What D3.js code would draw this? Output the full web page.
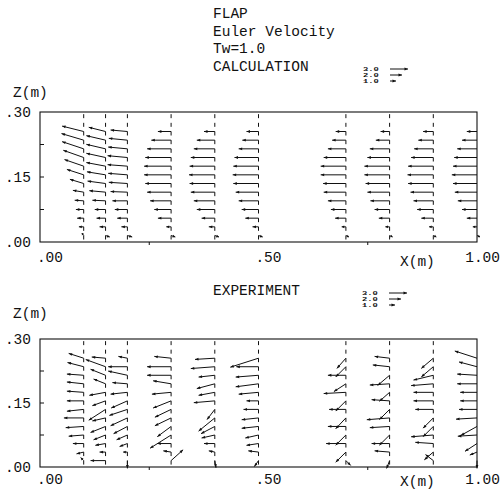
<!DOCTYPE html>
<html><head><meta charset="utf-8">
<script src="https://cdn.jsdelivr.net/npm/d3@7"></script>
<style>
body{margin:0;background:#fff}
text{font-family:"Liberation Mono","DejaVu Sans Mono",monospace;fill:#111}
</style>
</head><body>
<svg id="c" width="503" height="491"></svg>
<script>
// ---------------- data ----------------
const stations = [0.1, 0.15, 0.2, 0.3, 0.4, 0.5, 0.7, 0.8, 0.9, 1.0];
const zLevels = [0.255,0.235,0.215,0.195,0.175,0.155,0.135,0.115,0.095,0.075,0.055,0.035,0.015];

// CALCULATION: horizontal (u) and vertical (w) velocity, one row per station, top -> bottom
const calcU = [
 [-3.6,-3.7,-3.6,-3.4,-3.2,-2.8,-2.3,-1.8,-1.5,-1.3,-1.1,-0.8,-0.3],
 [-2.8,-3.2,-3.2,-3.2,-3.2,-3.1,-3.0,-2.7,-2.2,-1.8,-1.5,-1.0,0.7],
 [-2.8,-3.1,-3.2,-3.3,-3.3,-3.2,-3.1,-2.8,-2.5,-2.1,-1.7,-1.0,0.8],
 [-2.2,-3.3,-4.0,-4.3,-4.5,-4.5,-4.3,-4.0,-3.5,-2.8,-2.2,-0.8,0.7],
 [-1.8,-3.0,-3.5,-4.0,-4.2,-4.3,-4.2,-4.0,-3.5,-3.0,-2.2,-1.0,0.7],
 [-2.0,-2.7,-3.3,-4.0,-4.2,-4.3,-4.2,-3.8,-3.3,-2.8,-2.2,-1.0,0.7],
 [-1.7,-2.3,-3.0,-3.7,-4.2,-4.2,-3.8,-3.7,-3.0,-2.5,-1.8,-0.7,0.5],
 [-1.5,-2.3,-3.3,-3.7,-4.2,-4.2,-4.0,-3.7,-3.2,-2.5,-1.8,-0.7,0.5],
 [-1.7,-2.5,-3.2,-3.7,-4.2,-4.3,-4.2,-3.8,-3.3,-2.7,-2.0,-0.7,0.5],
 [-1.7,-2.5,-3.3,-3.8,-4.0,-4.2,-4.0,-3.7,-3.2,-2.5,-1.7,-0.7,0.5]
];
const calcW = [
 [0.9,1.1,1.2,1.2,1.1,0.9,0.7,0.3,0.1,0,0,0,0.4],
 [0.7,0.75,0.75,0.7,0.6,0.5,0.4,0.25,0.1,0,0,0,-0.25],
 [0.25,0.3,0.3,0.3,0.25,0.25,0.2,0.1,0,0,0,0,-0.25],
 [0,0,0,0,0,0,0,0,0,0,0,0,-0.25],
 [0,0,0,0,0,0,0,0,0,0,0,0,-0.25],
 [0,0,0,0,0,0,0,0,0,0,0,0,-0.25],
 [0,0,0,0,0,0,0,0,0,0,0,0,-0.25],
 [0,0,0,0,0,0,0,0,0,0,0,0,-0.25],
 [0,0,0,0,0,0,0,0,0,0,0,0,-0.25],
 [0,0,0,0,0,0,0,0,0,0,0,0,-0.25]
];

// EXPERIMENT
const expU = [
 [-2.5,-2.7,-2.8,-2.8,-2.8,-2.8,-2.8,-3.3,-3.0,-2.5,-1.8,-1.2,-0.5],
 [-2.3,-3.3,-2.5,-2.0,-2.7,-2.2,-2.8,-2.2,-2.5,-2.0,-1.7,-1.0,-2.5],
 [-1.5,-3.2,-3.2,-2.5,-2.8,-2.7,-3.0,-2.8,-2.3,-1.8,-1.3,-0.7,0],
 [-2.8,-4.0,-4.0,-3.0,-3.2,-3.0,-2.7,-2.7,-2.3,-3.5,-2.3,-1.3,2.0],
 [-3.3,-4.0,-2.7,-3.0,-2.7,-3.5,-1.3,-2.7,-2.3,-2.2,-1.8,-1.0,0.2],
 [-4.7,-3.7,-3.8,-3.8,-3.3,-2.0,-2.5,-2.8,-2.8,-2.2,-2.0,-1.7,-0.7],
 [-1.5,-1.7,-3.0,-2.0,-3.7,-1.7,-2.8,-1.7,-3.0,-1.7,-3.3,-1.7,0.8],
 [-2.5,-2.8,-2.0,-3.3,-1.7,-3.0,-1.7,-3.8,-3.3,-1.7,-3.0,-2.5,-0.5],
 [-2.0,-2.0,-3.3,-3.7,-3.3,-3.3,-3.0,-1.7,-1.7,-3.7,-3.0,-1.5,-1.3],
 [-3.7,-3.0,-3.3,-3.3,-2.8,-2.8,-3.0,-3.5,-2.7,-3.2,-2.0,-1.2,0]
];
const expW = [
 [0.8,0.7,0.2,0.3,0.2,0,-0.3,0,-0.2,-0.2,0,-0.3,0.5],
 [0.2,1.2,1.0,0.8,-0.5,-0.8,-1.8,-0.5,-1.0,-0.8,-0.3,0,0],
 [0.3,0,0.7,0.2,-0.3,-1.2,-1.0,-1.3,-1.2,-0.8,-0.5,0,-1.3],
 [0.3,0,0,0.5,-0.3,-1.2,-1.3,-1.3,-1.7,-2.2,0,0.2,1.8],
 [-0.2,-0.3,-0.3,-0.8,-0.5,-0.3,-1.7,-2.2,-1.2,-0.5,0,0.2,-1.2],
 [-1.5,0,-0.3,-0.5,-0.3,0,0,-0.3,-0.3,-0.5,-0.3,0.2,-1.0],
 [-1.7,-1.7,0,-1.3,-0.2,-1.7,0,-1.8,0,-1.7,0,-1.7,-0.8],
 [0.3,0.3,-1.7,-0.2,-1.5,0.2,-1.7,-0.3,-0.2,-1.7,0,0.2,-1.3],
 [-1.7,-1.7,-0.8,-0.3,0,0,0,-1.7,-1.7,-0.3,0.2,-1.3,1.0],
 [1.2,0.8,0.2,0,0,0,0,-0.2,-1.5,-0.2,-1.3,-0.5,-1.3]
];

const legendValues = [3.0, 2.0, 1.0];
const legendLabels = ["3.0", "2.0", "1.0"];
const xTicks = [0, 0.5, 1.0];
const xTickLabels = [".00", ".50", "1.00"];
const xMinorTicks = [0.25, 0.75];
const zTicks = [0.30, 0.15, 0.00];
const zTickLabels = [".30", ".15", ".00"];
const zMinorTicks = [0.075, 0.15, 0.225];
const titleLines = ["FLAP", "Euler Velocity", "Tw=1.0", "CALCULATION"];
const expTitle = "EXPERIMENT";

// ---------------- drawing ----------------
const svg = d3.select("#c");
const ink = "#111";
const xS = d3.scaleLinear().domain([0, 1]).range([40, 477]);
const vS = d3.scaleLinear().domain([0, 1]).range([0, 6]);   // velocity -> px

function arrow(g, x0, y0, x1, y1) {
  const dx = x1 - x0, dy = y1 - y0, L = Math.hypot(dx, dy);
  if (L < 0.5) return;
  g.append("line").attr("x1", x0).attr("y1", y0).attr("x2", x1).attr("y2", y1)
    .attr("stroke", ink).attr("stroke-width", 1);
  const ux = dx / L, uy = dy / L, h = Math.min(3.5, L * 0.6), w = 1.4;
  const bx = x1 - ux * h, by = y1 - uy * h;
  g.append("path")
    .attr("d", `M${x1},${y1}L${bx - uy * w},${by + ux * w}L${bx + uy * w},${by - ux * w}Z`)
    .attr("fill", ink);
}

function panel(cfg) {
  const g = svg.append("g");
  const yS = d3.scaleLinear().domain([0, 0.3]).range([cfg.bottom, cfg.top]);

  // station lines (dashed), aligned with arrow rows
  const period = yS(0) - yS(0.02);
  const first = yS(zLevels[0]) - cfg.top;
  const off = period - (first % period);
  g.selectAll("line.st").data(stations.filter(s => s < 1)).join("line")
    .attr("x1", d => xS(d)).attr("x2", d => xS(d))
    .attr("y1", cfg.top).attr("y2", cfg.bottom)
    .attr("stroke", ink).attr("stroke-width", 1)
    .attr("stroke-dasharray", `4 ${period - 4}`)
    .attr("stroke-dashoffset", off);

  // frame
  g.append("rect").attr("x", xS(0)).attr("y", cfg.top)
    .attr("width", xS(1) - xS(0)).attr("height", cfg.bottom - cfg.top)
    .attr("fill", "none").attr("stroke", ink).attr("stroke-width", 1.1);

  // minor ticks
  zMinorTicks.forEach(z => g.append("line").attr("x1", xS(0)).attr("x2", xS(0) + 4)
    .attr("y1", yS(z)).attr("y2", yS(z)).attr("stroke", ink));
  xMinorTicks.forEach(x => g.append("line").attr("x1", xS(x)).attr("x2", xS(x))
    .attr("y1", cfg.bottom).attr("y2", cfg.bottom + 3).attr("stroke", ink));

  // arrows
  stations.forEach((s, i) => {
    zLevels.forEach((z, j) => {
      const x0 = xS(s), y0 = yS(z);
      arrow(g, x0, y0, x0 + vS(cfg.U[i][j]), y0 - vS(cfg.W[i][j]));
    });
  });

  // axis labels
  zTicks.forEach((z, k) => g.append("text").attr("x", 31).attr("y", yS(z) + 4.5)
    .attr("text-anchor", "end").attr("font-size", 14.5).text(zTickLabels[k]));
  xTicks.forEach((x, k) => g.append("text").attr("x", xS(x) + 23).attr("y", cfg.xLabY)
    .attr("text-anchor", "end").attr("font-size", 14.5).text(xTickLabels[k]));
  g.append("text").attr("x", 400).attr("y", cfg.xLabY + cfg.xmDy).attr("font-size", 14.5).text("X(m)");
  g.append("text").attr("x", 13).attr("y", cfg.zLabY).attr("font-size", 14.5).text("Z(m)");

  // legend
  legendValues.forEach((v, k) => {
    const cy = cfg.legY + k * 6;
    g.append("text").attr("transform", `translate(${cfg.legX},${cy + 2.4}) scale(1.1,0.68)`)
      .attr("font-size", 8).attr("font-weight", "bold").attr("fill", "#222").text(legendLabels[k]);
    arrow(g, cfg.legX + 27, cy, cfg.legX + 27 + vS(v), cy);
  });
}

// titles
titleLines.forEach((t, k) => svg.append("text").attr("x", 213).attr("y", 18 + k * 17.6)
  .attr("font-size", 14.5).text(t));
svg.append("text").attr("x", 213).attr("y", 294.5).attr("font-size", 14.5).text(expTitle);

panel({top: 112, bottom: 242, U: calcU, W: calcW, xLabY: 262, xmDy: 3.5, zLabY: 96.5, legX: 363, legY: 69});
panel({top: 339, bottom: 467, U: expU, W: expW, xLabY: 484, xmDy: 1.5, zLabY: 318, legX: 362, legY: 293});
</script>
</body></html>
